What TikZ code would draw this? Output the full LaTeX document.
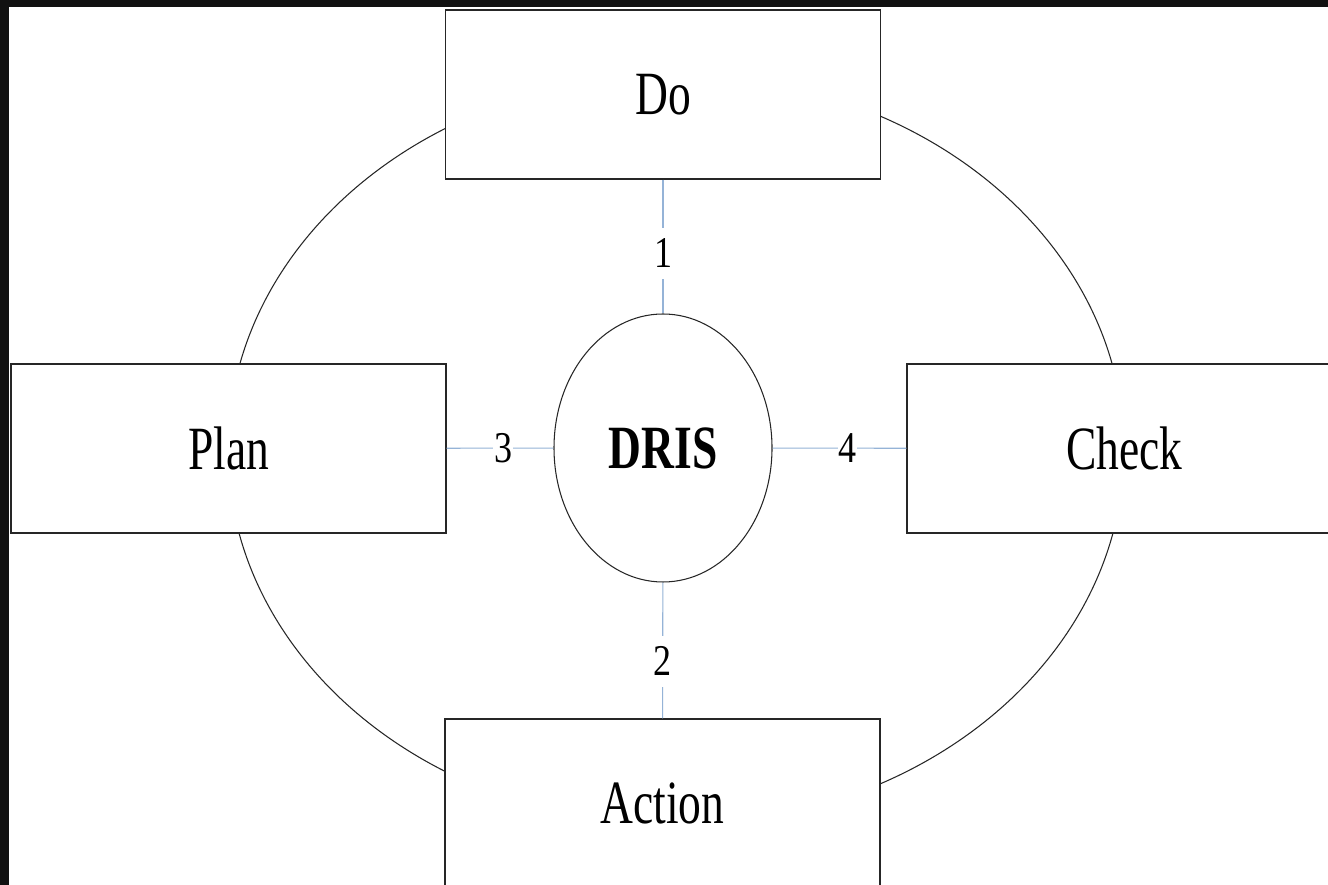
\documentclass[tikz,border=0pt]{standalone}
\usepackage{fontspec}
\setmainfont{Liberation Serif}
\usepackage{tikz}
\usetikzlibrary{shapes.geometric}

\definecolor{linkblue}{RGB}{149,179,215}
\definecolor{edgedark}{RGB}{17,17,17}
\newcommand{\narrow}[1]{\scalebox{0.74}[1]{#1}}
\newcommand{\numtext}[1]{\scalebox{0.82}[1]{#1}}

\tikzset{
    stage/.style={rectangle, draw=black!85, line width=0.7pt, fill=white,
        minimum width=8.7cm, minimum height=3.38cm, inner sep=0pt,
        font=\fontsize{35}{40}\selectfont},
    core/.style={ellipse, draw=black!85, line width=0.6pt, fill=white,
        minimum width=4.36cm, minimum height=5.36cm, inner sep=0pt,
        font=\fontsize{35}{40}\selectfont\bfseries},
    link/.style={draw=linkblue, line width=0.6pt},
    num/.style={fill=white, inner xsep=0.5pt, inner ysep=0.22cm,
        font=\fontsize{25}{28}\selectfont}
}

\begin{document}
\begin{tikzpicture}
    \useasboundingbox (0,0) rectangle (26.56,17.7);
    \clip (0,0) rectangle (26.56,17.7);
    \fill[white] (0,0) rectangle (26.56,17.7);
    \fill[edgedark] (0,17.56) rectangle (26.56,17.7);
    \fill[edgedark] (0,0) rectangle (0.18,17.7);

    % Outer cycle
    \draw[black!85, line width=0.6pt] (13.52,8.70) ellipse (8.96 and 7.5);

    % Stages
    \node[stage] (DO) at (13.26,15.81) {\narrow{Do}};
    \node[stage] (PLAN) at (4.57,8.73) {\narrow{Plan}};
    \node[stage] (CHECK) at (22.49,8.73) {\narrow{Check}};
    \node[stage] (ACTION) at (13.25,1.63) {\narrow{Action}};

    % Centre
    \node[core] (DRIS) at (13.26,8.74) {\narrow{DRIS}};

    % Connections
    \draw[link] (DO) -- node[num, pos=0.55] {\numtext{1}} (DRIS);
    \draw[link] (DRIS) -- node[num, pos=0.58] {\numtext{2}} (ACTION);
    \draw[link] (PLAN) -- node[num, pos=0.53] {\numtext{3}} (DRIS);
    \draw[link] (DRIS) -- node[num, pos=0.56] {\numtext{4}} (CHECK);
\end{tikzpicture}
\end{document}
